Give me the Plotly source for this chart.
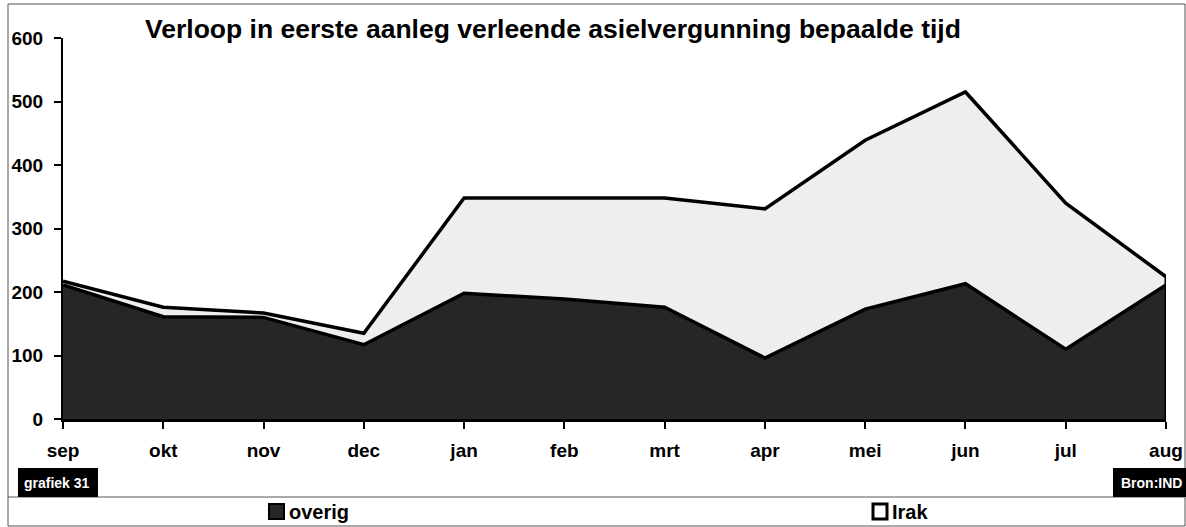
import plotly.graph_objects as go

# maanden (sep t/m aug)
months = ["sep", "okt", "nov", "dec", "jan", "feb", "mrt", "apr", "mei", "jun", "jul", "aug"]
overig = [211, 161, 160, 117, 198, 189, 176, 96, 173, 213, 110, 211]
totaal = [217, 176, 167, 135, 348, 348, 348, 331, 439, 515, 340, 224]
irak = [t - o for t, o in zip(totaal, overig)]

y_ticks = [0, 100, 200, 300, 400, 500, 600]

FONT = "Arial, Liberation Sans, sans-serif"
DARK = "#262626"
LIGHT = "#eeeeee"

W, H = 1186, 527
L, R, T, B = 63, 20, 38, 108
pw, ph = W - L - R, H - T - B


def px(x):
    return (x - L) / pw


def py(y):
    return 1 - (y - T) / ph


fig = go.Figure()
fig.add_trace(go.Scatter(
    x=months, y=overig, name="overig", stackgroup="one",
    fillcolor=DARK, line=dict(color="black", width=3.5), mode="lines",
))
fig.add_trace(go.Scatter(
    x=months, y=irak, name="Irak", stackgroup="one",
    fillcolor=LIGHT, line=dict(color="black", width=3.5), mode="lines",
))
# closing edge on the right side of the area
fig.add_trace(go.Scatter(
    x=[months[-1], months[-1]], y=[0, totaal[-1]], mode="lines",
    line=dict(color="black", width=3), showlegend=False, hoverinfo="skip",
))

fig.update_layout(
    width=W, height=H, autosize=False,
    margin=dict(l=L, r=R, t=T, b=B),
    paper_bgcolor="white", plot_bgcolor="white",
    showlegend=False,
    font=dict(family=FONT, size=19, color="black", weight="bold"),
    title=dict(
        text="Verloop in eerste aanleg verleende asielvergunning bepaalde tijd",
        x=145 / W, xanchor="left", y=1 - 29 / H, yanchor="middle",
        font=dict(family=FONT, size=26.5, color="black", weight="bold"),
    ),
)
fig.update_xaxes(
    type="category", range=[0, len(months) - 1], automargin=False,
    showline=True, linecolor="black", linewidth=3,
    ticks="outside", ticklen=7, tickwidth=2, tickcolor="black",
    ticklabelstandoff=5, showgrid=False, zeroline=False,
)
fig.update_yaxes(
    range=[0, 600], tickvals=y_ticks, automargin=False,
    showline=True, linecolor="black", linewidth=2,
    ticks="outside", ticklen=7, tickwidth=2, tickcolor="black",
    ticklabelstandoff=7, showgrid=False, zeroline=False,
)

shapes = [
    dict(type="rect", xref="paper", yref="paper", x0=px(8), x1=px(1185), y0=py(526), y1=py(4),
         line=dict(color="#555555", width=1), layer="below"),
    dict(type="line", xref="paper", yref="paper", x0=px(8), x1=px(1185), y0=py(497), y1=py(497),
         line=dict(color="#555555", width=1)),
    dict(type="rect", xref="paper", yref="paper", x0=px(18), x1=px(98), y0=py(497), y1=py(468),
         fillcolor="black", line=dict(width=0)),
    dict(type="rect", xref="paper", yref="paper", x0=px(1113), x1=px(1186), y0=py(497), y1=py(468),
         fillcolor="black", line=dict(width=0)),
    dict(type="rect", xref="paper", yref="paper", x0=px(269), x1=px(284), y0=py(519), y1=py(504),
         fillcolor=DARK, line=dict(color="black", width=2)),
    dict(type="rect", xref="paper", yref="paper", x0=px(873), x1=px(887), y0=py(519), y1=py(504),
         fillcolor="white", line=dict(color="black", width=3)),
]
fig.update_layout(shapes=shapes)

annotations = [
    dict(text="grafiek 31", x=px(57), y=py(483), xanchor="center", yanchor="middle",
         font=dict(family=FONT, size=14, color="white", weight="bold")),
    dict(text="Bron:IND", x=px(1151), y=py(483), xanchor="center", yanchor="middle",
         font=dict(family=FONT, size=14, color="white", weight="bold")),
    dict(text="overig", x=px(287), y=py(512), xanchor="left", yanchor="middle",
         font=dict(family=FONT, size=20, color="black", weight="bold")),
    dict(text="Irak", x=px(890), y=py(512), xanchor="left", yanchor="middle",
         font=dict(family=FONT, size=20, color="black", weight="bold")),
]
for a in annotations:
    a.update(xref="paper", yref="paper", showarrow=False)
fig.update_layout(annotations=annotations)

fig.write_html(
    "out.html",
    config={"displayModeBar": False},
    post_script="document.body.style.margin='0';document.body.style.overflow='hidden';",
)
